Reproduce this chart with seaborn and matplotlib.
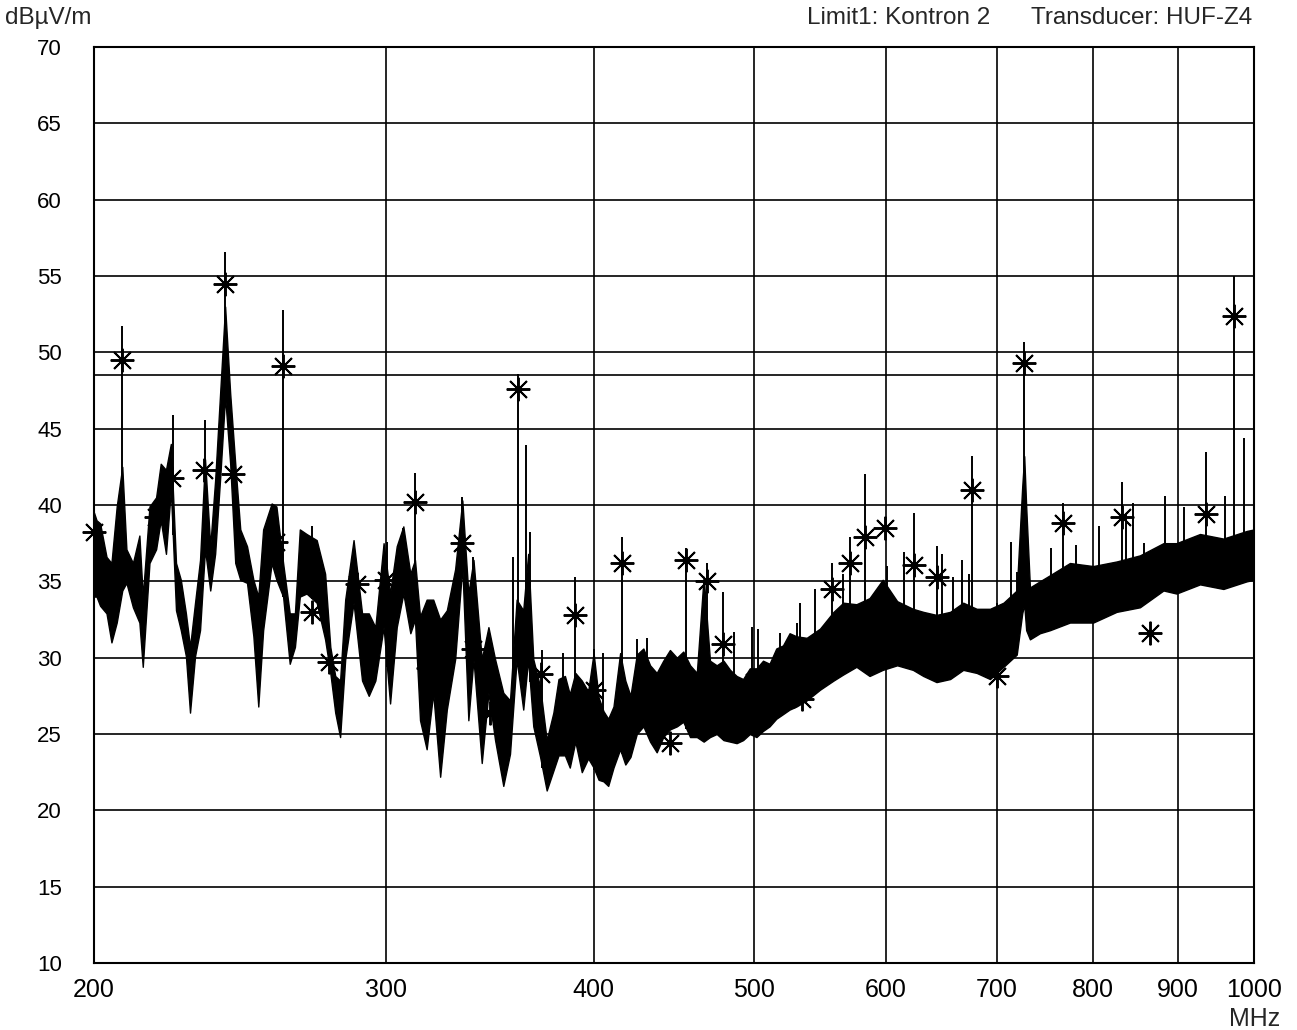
import matplotlib
matplotlib.use("Agg")
import matplotlib.pyplot as plt
import seaborn as sns
import numpy as np
import pandas as pd

# ==== Data ====
# noise band of the trace: frequency (MHz), upper and lower level (dBuV/m)
env_freq = [200.0, 200.7, 201.7, 203.5, 204.9, 206.4, 208.0, 209.2, 211.1, 213.0,
            214.0, 216.0, 218.0, 219.4, 221.0, 222.5, 224.1, 225.6, 227.2, 228.5,
            230.1, 231.7, 233.3, 235.0, 236.6, 238.3, 239.9, 241.6, 243.3, 245.0,
            247.3, 249.5, 251.2, 252.9, 255.9, 257.6, 260.0, 262.4, 264.3, 266.1,
            268.6, 272.4, 275.6, 277.6, 279.5, 281.4, 283.4, 286.7, 290.1, 292.8,
            295.5, 298.9, 301.6, 304.4, 307.2, 310.2, 312.2, 314.4, 317.3, 320.2,
            323.3, 326.3, 330.1, 333.4, 336.2, 338.6, 342.5, 345.7, 348.9, 352.9,
            356.2, 359.5, 362.8, 365.3, 367.9, 371.4, 374.8, 378.3, 381.0, 384.4,
            387.0, 390.0, 393.5, 397.0, 400.0, 402.8, 405.5, 408.2, 411.2, 415.0,
            418.0, 421.0, 424.7, 428.6, 432.6, 436.6, 440.6, 444.7, 449.0, 453.0,
            457.3, 461.6, 466.0, 470.1, 474.5, 479.0, 483.4, 487.8, 492.2, 496.8,
            501.4, 506.0, 510.6, 515.4, 520.2, 525.0, 530.0, 537.6, 547.6, 558.0,
            565.6, 576.0, 586.6, 597.4, 609.5, 623.0, 632.0, 643.7, 656.0, 668.0,
            680.6, 693.3, 706.4, 719.5, 725.0, 727.0, 729.0, 732.8, 743.0, 753.5,
            774.6, 800.0, 826.4, 853.6, 881.9, 898.0, 927.8, 958.4, 990.0, 1000.0]
env_hi = [39.5, 39.0, 38.8, 36.6, 36.2, 39.9, 42.5, 37.1, 36.2, 38.0,
          34.0, 39.9, 40.5, 42.7, 42.3, 44.0, 36.2, 35.1, 32.9, 30.7,
          33.6, 36.4, 43.0, 37.3, 41.6, 47.5, 53.0, 47.3, 42.7, 38.4,
          37.3, 35.1, 34.0, 38.4, 40.1, 39.9, 36.2, 32.9, 32.9, 38.4,
          38.1, 37.7, 35.5, 30.7, 28.8, 28.5, 33.8, 37.7, 32.9, 32.9,
          32.0, 37.5, 34.2, 37.3, 38.6, 35.5, 36.4, 32.7, 33.8, 33.8,
          32.5, 33.1, 35.8, 40.3, 34.2, 36.4, 29.9, 32.0, 29.9, 27.7,
          27.2, 33.8, 33.1, 36.8, 29.9, 28.1, 24.6, 26.4, 28.6, 28.8,
          27.6, 29.0, 28.5, 27.8, 30.3, 27.4, 26.5, 26.0, 26.8, 30.3,
          28.5, 27.5, 30.2, 30.6, 29.5, 29.0, 29.8, 30.5, 30.0, 30.4,
          29.5, 29.0, 35.3, 29.8, 29.5, 29.8, 29.2, 28.8, 28.6, 29.3,
          29.3, 29.8, 29.6, 30.6, 30.8, 31.6, 31.4, 31.3, 31.9, 33.0,
          33.6, 33.5, 33.9, 35.1, 33.7, 33.2, 33.0, 32.8, 33.0, 33.6,
          33.2, 33.2, 33.6, 34.4, 41.2, 43.2, 39.9, 34.6, 35.0, 35.4,
          36.2, 36.0, 36.3, 36.7, 37.5, 37.5, 38.1, 37.8, 38.3, 38.4]
env_lo = [34.0, 34.0, 33.4, 32.9, 31.0, 32.3, 34.4, 34.9, 33.3, 32.3,
          29.4, 36.2, 37.1, 39.0, 36.8, 41.0, 33.1, 31.8, 30.1, 26.4,
          30.1, 31.8, 37.1, 34.4, 36.8, 41.9, 47.1, 42.7, 36.2, 35.1,
          34.9, 31.4, 26.8, 31.8, 36.2, 35.1, 34.0, 29.6, 30.7, 34.0,
          34.2, 33.6, 31.2, 29.0, 26.4, 24.8, 29.9, 33.6, 28.5, 27.5,
          28.5, 32.0, 27.0, 32.0, 34.2, 31.6, 32.5, 25.9, 24.0, 27.7,
          22.2, 26.6, 29.9, 36.0, 25.9, 29.9, 23.1, 27.7, 24.6, 21.6,
          23.7, 29.9, 26.6, 29.9, 25.5, 23.5, 21.3, 22.6, 23.6, 23.6,
          22.8, 24.5, 22.5, 23.4, 22.8, 22.0, 21.9, 21.6, 22.8, 24.0,
          23.0, 23.5, 25.0, 25.5, 24.5, 23.8, 24.8, 25.3, 25.5, 25.8,
          24.8, 24.8, 24.5, 24.8, 25.0, 24.6, 24.5, 24.4, 24.6, 25.0,
          24.8, 25.2, 25.5, 26.0, 26.3, 26.6, 26.8, 27.2, 27.9, 28.5,
          28.9, 29.4, 28.8, 29.2, 29.5, 29.2, 28.8, 28.4, 28.6, 29.2,
          29.0, 28.6, 29.4, 30.2, 32.9, 33.5, 31.8, 31.2, 31.6, 31.8,
          32.3, 32.3, 33.0, 33.3, 34.4, 34.2, 34.8, 34.5, 35.0, 35.1]

# narrow spikes of the trace: frequency and peak level
spike_freq = [208.0, 223.1, 233.3, 239.9, 260.0, 270.8, 300.3, 307.2, 312.2, 333.4,
              338.6, 357.8, 360.0, 364.2, 366.2, 372.5, 383.6, 389.8, 400.5, 405.0,
              416.0, 424.7, 430.5, 455.0, 468.0, 479.0, 486.0, 498.0, 502.6, 518.2,
              530.3, 533.0, 543.9, 557.0, 565.6, 571.0, 583.0, 601.0, 607.8, 615.0,
              624.0, 644.0, 649.0, 658.9, 666.7, 673.7, 676.0, 700.4, 714.0, 720.0,
              727.0, 755.0, 767.0, 781.0, 806.0, 833.0, 837.0, 845.0, 859.0, 884.0,
              907.0, 936.0, 960.0, 973.0, 986.0]
spike_top = [51.7, 45.9, 45.6, 56.6, 52.8, 38.6, 37.6, 38.5, 42.1, 40.5,
             36.6, 36.6, 48.6, 43.9, 38.2, 30.5, 30.3, 35.3, 30.6, 30.3,
             37.9, 31.2, 31.3, 37.2, 36.2, 34.3, 31.7, 32.0, 31.9, 31.6,
             32.3, 33.6, 34.5, 36.2, 35.5, 37.9, 42.0, 36.0, 33.3, 36.9,
             39.5, 37.3, 36.8, 35.3, 36.4, 35.5, 43.2, 33.6, 37.6, 35.6,
             50.7, 37.2, 40.1, 37.4, 38.6, 41.5, 39.5, 40.1, 37.5, 40.6,
             39.9, 43.5, 40.6, 55.0, 44.4]

# final measurement points (asterisks)
peak_freq = [200.0, 208.0, 218.0, 223.0, 233.0, 240.0, 242.6, 257.6, 260.0, 270.6,
             277.0, 287.9, 300.0, 312.0, 318.0, 333.4, 338.5, 346.4, 360.0, 372.0,
             390.0, 400.0, 416.0, 444.6, 455.0, 468.0, 479.0, 500.0, 520.6, 534.0,
             557.0, 571.0, 583.0, 599.5, 624.0, 644.0, 676.0, 700.0, 727.0, 767.0,
             833.0, 866.0, 935.0, 973.0]
peak_level = [38.2, 49.5, 39.2, 41.8, 42.3, 54.5, 42.0, 37.6, 49.1, 33.0,
              29.7, 34.8, 35.1, 40.2, 29.3, 37.5, 30.6, 26.4, 47.6, 28.9,
              32.8, 27.9, 36.2, 24.4, 36.4, 35.0, 30.9, 28.4, 29.5, 27.3,
              34.5, 36.2, 37.9, 38.5, 36.1, 35.3, 41.0, 28.8, 49.3, 38.8,
              39.2, 31.6, 39.4, 52.4]

limit_freq = [200, 1000]
limit_level = [48.5, 48.5]

x_ticks = [200, 300, 400, 500, 600, 700, 800, 900, 1000]
y_ticks = list(range(10, 75, 5))

# ==== Plot ====
sns.set_theme(style="white")
plt.rcParams['font.family'] = ['Liberation Sans', 'DejaVu Sans']

fig = plt.figure(figsize=(12.97, 10.30), dpi=100)
ax = fig.add_axes([94 / 1297, 1 - 963 / 1030, 1160 / 1297, 916 / 1030])

ax.fill_between(env_freq, env_lo, env_hi, color='black', lw=1.0, zorder=3)
spike_base = np.interp(spike_freq, env_freq, env_lo)
ax.vlines(spike_freq, spike_base, spike_top, color='black', lw=1.4, zorder=3)

limit = pd.DataFrame({'MHz': limit_freq, 'level': limit_level})
sns.lineplot(data=limit, x='MHz', y='level', color='black', lw=1.2, ax=ax, zorder=2)

ax.plot(peak_freq, peak_level, ls='none', marker=(8, 2, 0), ms=17, mew=1.4,
        color='black', zorder=4, clip_on=False)

ax.set_xscale('log')
ax.set_xlim(200, 1000)
ax.set_ylim(10, 70)
ax.set_xticks(x_ticks)
ax.set_xticklabels([str(t) for t in x_ticks], fontsize=18)
ax.minorticks_off()
ax.set_yticks(y_ticks)
ax.set_yticklabels([str(t) for t in y_ticks], fontsize=16)
ax.tick_params(axis='x', length=0, pad=11, colors='black')
ax.tick_params(axis='y', length=0, pad=23, colors='black')
ax.set_xlabel('')
ax.set_ylabel('')
ax.grid(True, color='black', lw=1.2)
for s in ax.spines.values():
    s.set_color('black')
    s.set_linewidth(1.5)

fig.text(5 / 1297, 1 - 18 / 1030, 'dBµV/m', ha='left', va='center', fontsize=17.5)
fig.text(807 / 1297, 1 - 18 / 1030, 'Limit1: Kontron 2', ha='left', va='center', fontsize=17.5)
fig.text(1252 / 1297, 1 - 18 / 1030, 'Transducer: HUF-Z4', ha='right', va='center', fontsize=17.5)
fig.text(1255 / 1297, 1 - 1019 / 1030, 'MHz', ha='center', va='center', fontsize=18)

fig.savefig('out.png', dpi=100, facecolor='white')
